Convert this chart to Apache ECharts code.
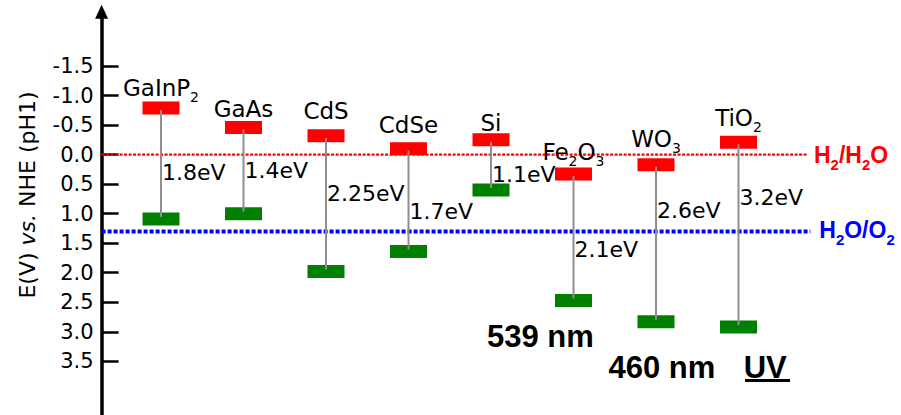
<!DOCTYPE html>
<html>
<head>
<meta charset="utf-8">
<script src="https://cdn.jsdelivr.net/npm/echarts@6/dist/echarts.min.js"></script>
<style>html,body{margin:0;padding:0;background:#fff}#c{width:901px;height:415px}</style>
</head>
<body>
<div id="c"></div>
<script>
// ---- data ----
const materials = ['GaInP2', 'GaAs', 'CdS', 'CdSe', 'Si', 'Fe2O3', 'WO3', 'TiO2'];
const cbEdge = [-0.79, -0.46, -0.32, -0.10, -0.25, 0.33, 0.17, -0.21];   // conduction band (red)
const vbEdge = [1.09, 1.00, 1.98, 1.64, 0.60, 2.47, 2.83, 2.92];         // valence band (green)
const gapLabels = ['1.8eV', '1.4eV', '2.25eV', '1.7eV', '1.1eV', '2.1eV', '2.6eV', '3.2eV'];
const yTicks = [-1.5, -1.0, -0.5, 0, 0.5, 1.0, 1.5, 2.0, 2.5, 3.0, 3.5];
const yTickLabels = ['-1.5', '-1.0', '-0.5', '0.0', '0.5', '1.0', '1.5', '2.0', '2.5', '3.0', '3.5'];
const redoxNames = ['H2/H2O', 'H2O/O2'];
const redoxLevels = [0, 1.3];
const edgeNotes = ['539 nm', '460 nm', 'UV'];
// annotation anchors (in V)
const gapLabelAt = [0.283, 0.239, 0.628, 0.946, 0.308, 1.581, 0.916, 0.697];
const nameAt = [-1.149, -0.789, -0.760, -0.530, -0.552, -0.064, -0.281, -0.637];

// ---- layout / style ----
const X_MIN = -0.72, X_MAX = 8.28;
const levelEndX = [7.83, 7.87];
const levelColors = ['#ff0000', '#0000ff'];
const REG = 'DejaVu Sans';
const BOLD = 'Liberation Sans';

function toRich(s) {
  return s.replace(/([^0-9]+)|([0-9]+)/g, (m, a, d) => a ? '{n|' + a + '}' : '{s|' + d + '}');
}

const chart = echarts.init(document.getElementById('c'), null, { renderer: 'svg' });

const bandData = materials.map((m, i) => [i, cbEdge[i], vbEdge[i], gapLabelAt[i], nameAt[i]]);

const option = {
  animation: false,
  backgroundColor: '#fff',
  grid: { left: 101.6, top: 11.65, width: 742.5, height: 408.75, containLabel: false, outerBoundsMode: 'none' },
  xAxis: { type: 'value', min: X_MIN, max: X_MAX, show: false },
  yAxis: {
    type: 'value', inverse: true, min: -2.42, max: 4.5,
    axisLine: {
      show: true, onZero: false,
      lineStyle: { color: '#000', width: 3.5 },
      symbol: ['none', 'triangle'], symbolSize: [13, 14]
    },
    axisTick: { show: true, inside: true, length: 17, customValues: yTicks, lineStyle: { color: '#000', width: 2.5 } },
    axisLabel: {
      customValues: yTicks, margin: 8, color: '#000', fontSize: 21, fontFamily: REG,
      formatter: (v) => {
        const k = yTicks.findIndex(t => Math.abs(t - v) < 1e-6);
        return k >= 0 ? yTickLabels[k] : '';
      }
    },
    splitLine: { show: false }
  },
  graphic: [
    {
      type: 'text', x: 27.3, y: 195, rotation: Math.PI / 2,
      style: {
        text: '{a|E(V) }{b|vs.}{a| NHE (pH1)}',
        rich: {
          a: { fontSize: 22, fontFamily: REG, fill: '#000' },
          b: { fontSize: 22, fontFamily: REG, fontStyle: 'italic', fill: '#000' }
        },
        align: 'center', verticalAlign: 'middle'
      }
    },
    { type: 'text', x: 487, y: 336, style: { text: edgeNotes[0], font: 'bold 31px "' + BOLD + '"', fill: '#000', align: 'left', verticalAlign: 'middle' } },
    { type: 'text', x: 608.5, y: 367.5, style: { text: edgeNotes[1], font: 'bold 31px "' + BOLD + '"', fill: '#000', align: 'left', verticalAlign: 'middle' } },
    { type: 'text', x: 743.7, y: 367, style: { text: edgeNotes[2], font: 'bold 31px "' + BOLD + '"', fill: '#000', align: 'left', verticalAlign: 'middle' } },
    { type: 'rect', shape: { x: 745, y: 379, width: 45, height: 3 }, style: { fill: '#000' } }
  ],
  series: [
    ...redoxLevels.map((lv, k) => ({
      type: 'line',
      name: redoxNames[k],
      data: [[X_MIN, lv], [levelEndX[k], lv]],
      symbol: 'none', silent: true, clip: false, z: 1,
      lineStyle: { color: levelColors[k], width: k === 0 ? 2.3 : 4, type: k === 0 ? [3, 1.5] : [4, 2] },
      endLabel: {
        show: true, distance: k === 0 ? 7 : 9, offset: [0, k === 0 ? 0 : -1.5],
        formatter: toRich(redoxNames[k]),
        rich: {
          n: { fontSize: 23, fontFamily: BOLD, fontWeight: 'bold', color: levelColors[k], lineHeight: 26 },
          s: { fontSize: 15, fontFamily: BOLD, fontWeight: 'bold', color: levelColors[k], padding: [20, 0, 0, 0] }
        }
      }
    })),
    {
      type: 'custom',
      name: 'bands',
      data: bandData,
      encode: { x: 0, y: [1, 2] },
      clip: false, z: 3,
      renderItem: (params, api) => {
        const idx = params.dataIndex;
        const i = api.value(0);
        const top = api.coord([i, api.value(1)]);
        const bot = api.coord([i, api.value(2)]);
        const lab = api.coord([i, api.value(3)]);
        const nm = api.coord([i, api.value(4)]);
        const W = 37, H = 13;
        return {
          type: 'group',
          children: [
            { type: 'rect', shape: { x: top[0] - W / 2, y: top[1] - H / 2, width: W, height: H }, style: { fill: '#ff0000' } },
            { type: 'rect', shape: { x: bot[0] - W / 2, y: bot[1] - H / 2, width: W, height: H }, style: { fill: '#008000' } },
            { type: 'line', shape: { x1: top[0], y1: top[1] + 2, x2: bot[0], y2: bot[1] - 2 }, style: { stroke: '#8f8f8f', lineWidth: 2 } },
            {
              type: 'text', x: lab[0] + 1, y: lab[1] + 1.5,
              style: { text: gapLabels[idx], fontSize: 22, fontFamily: REG, fill: '#000', align: 'left', verticalAlign: 'middle' }
            },
            {
              type: 'text', x: nm[0], y: nm[1] + 1.5,
              style: {
                text: toRich(materials[idx]),
                rich: {
                  n: { fontSize: 23, fontFamily: REG, fill: '#000', lineHeight: 26 },
                  s: { fontSize: 14, fontFamily: REG, fill: '#000', padding: [18, 0, 0, 0] }
                },
                align: 'center', verticalAlign: 'middle'
              }
            }
          ]
        };
      }
    }
  ]
};
chart.setOption(option);
</script>
</body>
</html>
